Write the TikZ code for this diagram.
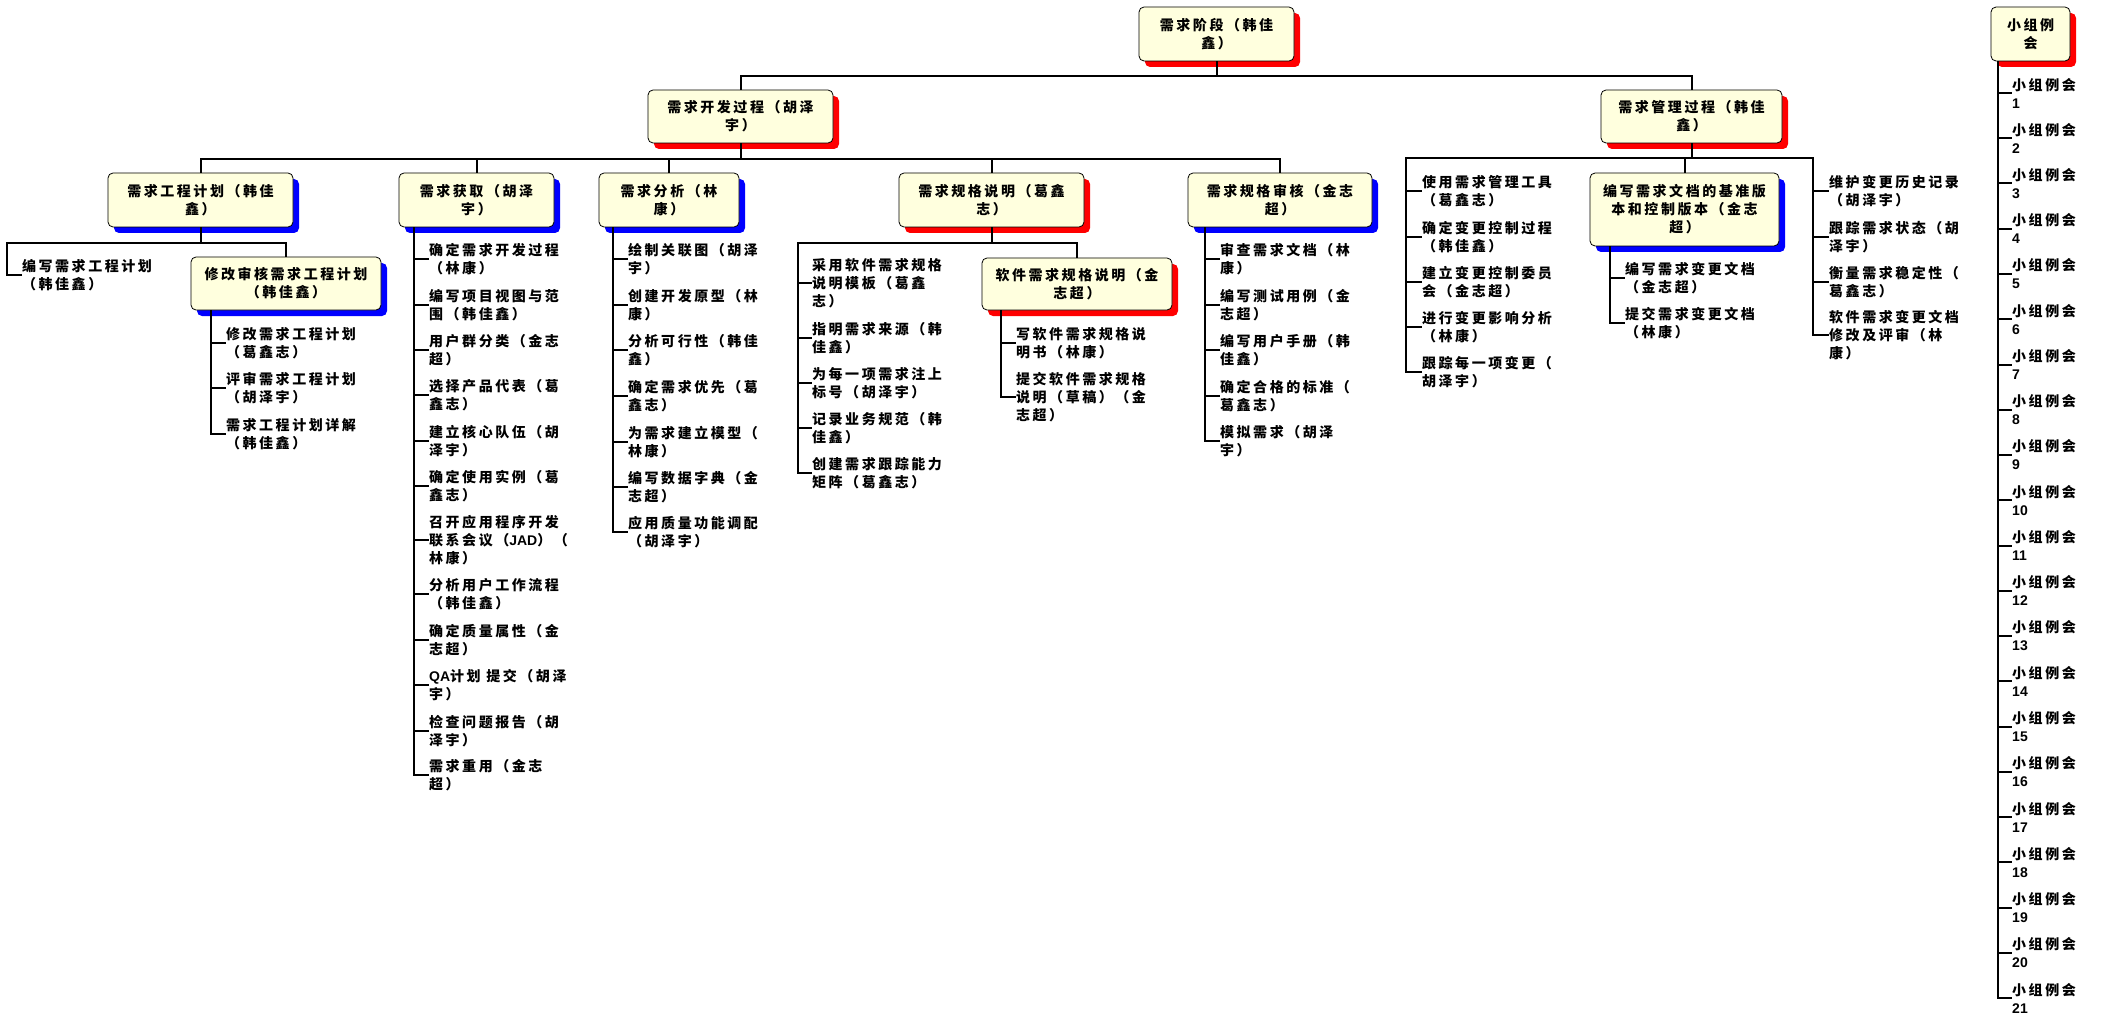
\documentclass[tikz,border=0pt]{standalone}
\usepackage{fontspec}
\setmainfont{Noto Sans CJK SC}[LetterSpace=18]
\newfontfamily\latfont{Liberation Sans}
\newcommand{\lat}[1]{{\latfont #1}}
\usetikzlibrary{shadows}
\definecolor{boxfill}{RGB}{255,255,222}

\begin{document}
\begin{tikzpicture}[
    x=1pt, y=-1pt,
    phase/.style  = {rectangle, draw=black, line width=0.8pt, rounded corners=5pt,
                     fill=boxfill, align=center, inner sep=2pt,
                     font=\bfseries\fontsize{14}{18}\selectfont},
    redsh/.style  = {drop shadow={shadow xshift=6pt, shadow yshift=-6pt,
                     fill=red, opacity=1}},
    bluesh/.style = {drop shadow={shadow xshift=6pt, shadow yshift=-6pt,
                     fill=blue, opacity=1}},
    leaf/.style   = {anchor=west, align=left, inner sep=0pt,
                     font=\bfseries\fontsize{14}{18}\selectfont},
    wire/.style   = {line width=2pt, black},
]

\fill[white] (0,0) rectangle (2101,1024);

%% ---- Top level ----
\node[phase, redsh, minimum width=155pt, minimum height=54pt] (root) at (1216.5,34)
    {需求阶段（韩佳\\鑫）};
\node[phase, redsh, minimum width=185pt, minimum height=53pt] (dev) at (740.5,116.5)
    {需求开发过程（胡泽\\宇）};
\node[phase, redsh, minimum width=181pt, minimum height=53pt] (mgmt) at (1691.5,116.5)
    {需求管理过程（韩佳\\鑫）};
\node[phase, redsh, minimum width=79pt, minimum height=54pt] (meet) at (2030.5,34)
    {小组例\\会};

\coordinate (topbus) at (1216.5,76);
\draw[wire] (root.south) -- (topbus);
\draw[wire] (dev.north) |- (topbus) -| (mgmt.north);

%% ---- Development phases ----
\node[phase, bluesh, minimum width=185pt, minimum height=54pt] (plan) at (200.5,200)
    {需求工程计划（韩佳\\鑫）};
\node[phase, bluesh, minimum width=155pt, minimum height=54pt] (get) at (476.5,200)
    {需求获取（胡泽\\宇）};
\node[phase, bluesh, minimum width=140pt, minimum height=54pt] (ana) at (669,200)
    {需求分析（林\\康）};
\node[phase, redsh, minimum width=185pt, minimum height=54pt] (spec) at (991.5,200)
    {需求规格说明（葛鑫\\志）};
\node[phase, bluesh, minimum width=184pt, minimum height=54pt] (audit) at (1280,200)
    {需求规格审核（金志\\超）};

\coordinate (devbus) at (740.5,159);
\draw[wire] (dev.south) -- (devbus);
\draw[wire] (plan.north) |- (devbus) -| (audit.north);
\draw[wire] (get.north)  -- (get.north |- devbus);
\draw[wire] (ana.north)  -- (ana.north |- devbus);
\draw[wire] (spec.north) -- (spec.north |- devbus);

%% ---- Requirements engineering plan ----
\node[leaf] (p0) at (22,275) {编写需求工程计划\\（韩佳鑫）};
\node[phase, bluesh, minimum width=190pt, minimum height=53pt] (revise) at (286,283.5)
    {修改审核需求工程计划\\（韩佳鑫）};
\node[leaf] (r1) at (226,343) {修改需求工程计划\\（葛鑫志）};
\node[leaf] (r2) at (226,388) {评审需求工程计划\\（胡泽宇）};
\node[leaf] (r3) at (226,434) {需求工程计划详解\\（韩佳鑫）};

\coordinate (planbus) at (7,243);
\draw[wire] (plan.south) -- (plan.south |- planbus);
\draw[wire] (p0.west) -| (planbus) -| (revise.north);
\coordinate (reviset) at ([xshift=20pt]revise.south west);
\draw[wire] (reviset) |- (r3.west);
\draw[wire] (reviset |- r1.west) -- (r1.west) (reviset |- r2.west) -- (r2.west);

%% ---- Elicitation ----
\node[leaf] (g1)  at (429,259) {确定需求开发过程\\（林康）};
\node[leaf] (g2)  at (429,305) {编写项目视图与范\\围（韩佳鑫）};
\node[leaf] (g3)  at (429,350) {用户群分类（金志\\超）};
\node[leaf] (g4)  at (429,395) {选择产品代表（葛\\鑫志）};
\node[leaf] (g5)  at (429,441) {建立核心队伍（胡\\泽宇）};
\node[leaf] (g6)  at (429,486) {确定使用实例（葛\\鑫志）};
\node[leaf] (g7)  at (429,540) {召开应用程序开发\\联系会议（\lat{JAD}）（\\林康）};
\node[leaf] (g8)  at (429,594) {分析用户工作流程\\（韩佳鑫）};
\node[leaf] (g9)  at (429,640) {确定质量属性（金\\志超）};
\node[leaf] (g10) at (429,685) {\lat{QA}计划 提交（胡泽\\宇）};
\node[leaf] (g11) at (429,731) {检查问题报告（胡\\泽宇）};
\node[leaf] (g12) at (429,775) {需求重用（金志\\超）};

\coordinate (gett) at ([xshift=15pt]get.south west);
\draw[wire] (gett) |- (g12.west);
\draw[wire] (gett |- g1.west) -- (g1.west)  (gett |- g2.west) -- (g2.west)
            (gett |- g3.west) -- (g3.west)  (gett |- g4.west) -- (g4.west)
            (gett |- g5.west) -- (g5.west)  (gett |- g6.west) -- (g6.west)
            (gett |- g7.west) -- (g7.west)  (gett |- g8.west) -- (g8.west)
            (gett |- g9.west) -- (g9.west)  (gett |- g10.west) -- (g10.west)
            (gett |- g11.west) -- (g11.west);

%% ---- Analysis ----
\node[leaf] (a1) at (628,259) {绘制关联图（胡泽\\宇）};
\node[leaf] (a2) at (628,305) {创建开发原型（林\\康）};
\node[leaf] (a3) at (628,350) {分析可行性（韩佳\\鑫）};
\node[leaf] (a4) at (628,396) {确定需求优先（葛\\鑫志）};
\node[leaf] (a5) at (628,442) {为需求建立模型（\\林康）};
\node[leaf] (a6) at (628,487) {编写数据字典（金\\志超）};
\node[leaf] (a7) at (628,532) {应用质量功能调配\\（胡泽宇）};

\coordinate (anat) at ([xshift=14pt]ana.south west);
\draw[wire] (anat) |- (a7.west);
\draw[wire] (anat |- a1.west) -- (a1.west)  (anat |- a2.west) -- (a2.west)
            (anat |- a3.west) -- (a3.west)  (anat |- a4.west) -- (a4.west)
            (anat |- a5.west) -- (a5.west)  (anat |- a6.west) -- (a6.west);

%% ---- Specification ----
\node[leaf] (s1) at (812,283) {采用软件需求规格\\说明模板（葛鑫\\志）};
\node[leaf] (s2) at (812,338) {指明需求来源（韩\\佳鑫）};
\node[leaf] (s3) at (812,383) {为每一项需求注上\\标号（胡泽宇）};
\node[leaf] (s4) at (812,428) {记录业务规范（韩\\佳鑫）};
\node[leaf] (s5) at (812,473) {创建需求跟踪能力\\矩阵（葛鑫志）};
\node[phase, redsh, minimum width=190pt, minimum height=52pt] (srs) at (1077,284)
    {软件需求规格说明（金\\志超）};
\node[leaf] (w1) at (1016,343) {写软件需求规格说\\明书（林康）};
\node[leaf] (w2) at (1016,397) {提交软件需求规格\\说明（草稿）（金\\志超）};

\coordinate (specbus) at (798,243);
\draw[wire] (spec.south) -- (spec.south |- specbus);
\draw[wire] (s5.west) -| (specbus) -| (srs.north);
\draw[wire] (specbus |- s1.west) -- (s1.west)  (specbus |- s2.west) -- (s2.west)
            (specbus |- s3.west) -- (s3.west)  (specbus |- s4.west) -- (s4.west);
\coordinate (srst) at ([xshift=19pt]srs.south west);
\draw[wire] (srst) |- (w2.west);
\draw[wire] (srst |- w1.west) -- (w1.west);

%% ---- Validation ----
\node[leaf] (v1) at (1220,259) {审查需求文档（林\\康）};
\node[leaf] (v2) at (1220,305) {编写测试用例（金\\志超）};
\node[leaf] (v3) at (1220,350) {编写用户手册（韩\\佳鑫）};
\node[leaf] (v4) at (1220,396) {确定合格的标准（\\葛鑫志）};
\node[leaf] (v5) at (1220,441) {模拟需求（胡泽\\宇）};

\coordinate (auditt) at ([xshift=17pt]audit.south west);
\draw[wire] (auditt) |- (v5.west);
\draw[wire] (auditt |- v1.west) -- (v1.west)  (auditt |- v2.west) -- (v2.west)
            (auditt |- v3.west) -- (v3.west)  (auditt |- v4.west) -- (v4.west);

%% ---- Management ----
\node[leaf] (m1) at (1422,191) {使用需求管理工具\\（葛鑫志）};
\node[leaf] (m2) at (1422,237) {确定变更控制过程\\（韩佳鑫）};
\node[leaf] (m3) at (1422,282) {建立变更控制委员\\会（金志超）};
\node[leaf] (m4) at (1422,327) {进行变更影响分析\\（林康）};
\node[leaf] (m5) at (1422,372) {跟踪每一项变更（\\胡泽宇）};
\node[phase, bluesh, minimum width=189pt, minimum height=73pt] (base) at (1684.5,209.5)
    {编写需求文档的基准版\\本和控制版本（金志\\超）};
\node[leaf] (b1) at (1625,278) {编写需求变更文档\\（金志超）};
\node[leaf] (b2) at (1625,323) {提交需求变更文档\\（林康）};
\node[leaf] (n1) at (1829,191) {维护变更历史记录\\（胡泽宇）};
\node[leaf] (n2) at (1829,237) {跟踪需求状态（胡\\泽宇）};
\node[leaf] (n3) at (1829,282) {衡量需求稳定性（\\葛鑫志）};
\node[leaf] (n4) at (1829,335) {软件需求变更文档\\修改及评审（林\\康）};

\coordinate (mgmtl) at (1406,158);
\coordinate (mgmtr) at (1813,158);
\draw[wire] (mgmt.south) -- (mgmt.south |- mgmtl);
\draw[wire] (m5.west) -| (mgmtl) -- (mgmtr) |- (n4.west);
\draw[wire] (base.north) -- (base.north |- mgmtl);
\draw[wire] (mgmtl |- m1.west) -- (m1.west)  (mgmtl |- m2.west) -- (m2.west)
            (mgmtl |- m3.west) -- (m3.west)  (mgmtl |- m4.west) -- (m4.west);
\draw[wire] (mgmtr |- n1.west) -- (n1.west)  (mgmtr |- n2.west) -- (n2.west)
            (mgmtr |- n3.west) -- (n3.west);
\coordinate (baset) at ([xshift=20pt]base.south west);
\draw[wire] (baset) |- (b2.west);
\draw[wire] (baset |- b1.west) -- (b1.west);

%% ---- Group meetings ----
\node[leaf] (k1)  at (2012,93)     {小组例会\\\lat{1}};
\node[leaf] (k2)  at (2012,138.25) {小组例会\\\lat{2}};
\node[leaf] (k3)  at (2012,183.5)  {小组例会\\\lat{3}};
\node[leaf] (k4)  at (2012,228.75) {小组例会\\\lat{4}};
\node[leaf] (k5)  at (2012,274)    {小组例会\\\lat{5}};
\node[leaf] (k6)  at (2012,319.25) {小组例会\\\lat{6}};
\node[leaf] (k7)  at (2012,364.5)  {小组例会\\\lat{7}};
\node[leaf] (k8)  at (2012,409.75) {小组例会\\\lat{8}};
\node[leaf] (k9)  at (2012,455)    {小组例会\\\lat{9}};
\node[leaf] (k10) at (2012,500.25) {小组例会\\\lat{10}};
\node[leaf] (k11) at (2012,545.5)  {小组例会\\\lat{11}};
\node[leaf] (k12) at (2012,590.75) {小组例会\\\lat{12}};
\node[leaf] (k13) at (2012,636)    {小组例会\\\lat{13}};
\node[leaf] (k14) at (2012,681.25) {小组例会\\\lat{14}};
\node[leaf] (k15) at (2012,726.5)  {小组例会\\\lat{15}};
\node[leaf] (k16) at (2012,771.75) {小组例会\\\lat{16}};
\node[leaf] (k17) at (2012,817)    {小组例会\\\lat{17}};
\node[leaf] (k18) at (2012,862.25) {小组例会\\\lat{18}};
\node[leaf] (k19) at (2012,907.5)  {小组例会\\\lat{19}};
\node[leaf] (k20) at (2012,952.75) {小组例会\\\lat{20}};
\node[leaf] (k21) at (2012,998)    {小组例会\\\lat{21}};

\coordinate (meett) at ([xshift=7pt]meet.south west);
\draw[wire] (meett) |- (k21.west);
\draw[wire] (meett |- k1.west) -- (k1.west)    (meett |- k2.west) -- (k2.west)
            (meett |- k3.west) -- (k3.west)    (meett |- k4.west) -- (k4.west)
            (meett |- k5.west) -- (k5.west)    (meett |- k6.west) -- (k6.west)
            (meett |- k7.west) -- (k7.west)    (meett |- k8.west) -- (k8.west)
            (meett |- k9.west) -- (k9.west)    (meett |- k10.west) -- (k10.west)
            (meett |- k11.west) -- (k11.west)  (meett |- k12.west) -- (k12.west)
            (meett |- k13.west) -- (k13.west)  (meett |- k14.west) -- (k14.west)
            (meett |- k15.west) -- (k15.west)  (meett |- k16.west) -- (k16.west)
            (meett |- k17.west) -- (k17.west)  (meett |- k18.west) -- (k18.west)
            (meett |- k19.west) -- (k19.west)  (meett |- k20.west) -- (k20.west);

\end{tikzpicture}
\end{document}
